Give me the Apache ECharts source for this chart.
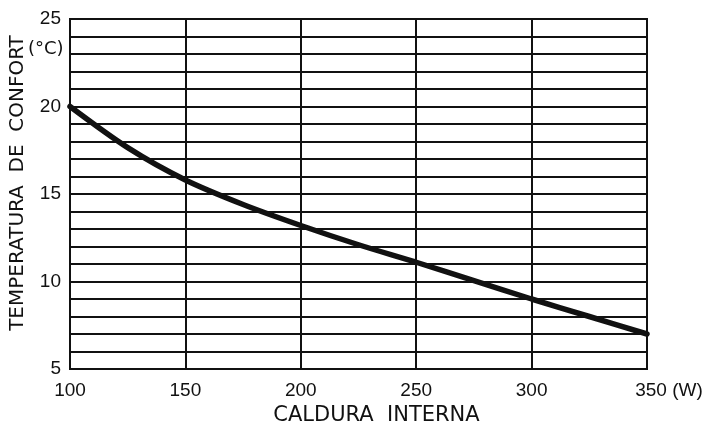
<!DOCTYPE html>
<html>
<head>
<meta charset="utf-8">
<script src="https://cdn.jsdelivr.net/npm/echarts@6/dist/echarts.min.js"></script>
<style>
  html, body { margin: 0; padding: 0; background: #fff; }
  #chart { width: 711px; height: 423px; }
</style>
</head>
<body>
<div id="chart"></div>
<script>
// Internal heat (W) against the comfort temperature (°C)
const caldura = [100, 125, 150, 175, 200, 225, 250, 275, 300, 325, 350];
const temperatura = [20.0, 17.65, 15.8, 14.4, 13.2, 12.1, 11.1, 10.05, 9.0, 8.0, 7.0];
const xTicks = [100, 150, 200, 250, 300, 350];
const yTicks = [5, 10, 15, 20, 25];

const ink = '#111';
const labelFont = 'Liberation Sans';
const titleFont = 'DejaVu Sans';

const chart = echarts.init(document.getElementById('chart'), null, { renderer: 'canvas' });

chart.setOption({
  backgroundColor: '#fff',
  animation: false,
  grid: { left: 70, right: 64, top: 19, bottom: 54, show: false, containLabel: false, outerBoundsMode: 'none' },
  xAxis: {
    type: 'value',
    min: xTicks[0],
    max: xTicks[xTicks.length - 1],
    interval: 50,
    name: 'CALDURA  INTERNA',
    nameLocation: 'middle',
    nameGap: 26,
    nameTextStyle: { color: ink, fontFamily: titleFont, fontSize: 21, padding: [0, 0, 0, 36] },
    axisLine: { show: true, lineStyle: { color: ink, width: 2 } },
    axisTick: { show: false },
    splitLine: { show: true, lineStyle: { color: ink, width: 2 } },
    axisLabel: {
      color: ink,
      fontFamily: labelFont,
      fontSize: 19,
      margin: 12,
      formatter: function (v) {
        if (v === xTicks[xTicks.length - 1]) return '{pad|}' + v + ' (W)';
        return String(v);
      },
      rich: {
        pad: { width: 44 }
      }
    }
  },
  yAxis: {
    type: 'value',
    min: yTicks[0],
    max: yTicks[yTicks.length - 1],
    interval: 1,
    name: 'TEMPERATURA  DE  CONFORT',
    nameLocation: 'middle',
    nameGap: 42,
    nameTextStyle: { color: ink, fontFamily: titleFont, fontSize: 20, padding: [0, 0, 0, 22] },
    axisLine: { show: true, lineStyle: { color: ink, width: 2 } },
    axisTick: { show: false },
    splitLine: { show: true, lineStyle: { color: ink, width: 2 } },
    axisLabel: {
      color: ink,
      fontFamily: labelFont,
      fontSize: 19,
      margin: 9,
      formatter: function (v) {
        return yTicks.indexOf(v) >= 0 ? String(v) : '';
      }
    }
  },
  graphic: [
    {
      type: 'rect',
      shape: { x: 70, y: 19, width: 577, height: 350 },
      style: { fill: 'none', stroke: ink, lineWidth: 2 },
      z: 10
    },
    {
      type: 'text',
      left: 28,
      top: 40,
      style: { text: '(°C)', fill: ink, font: '18px "DejaVu Sans"' }
    }
  ],
  series: [{
    type: 'line',
    data: caldura.map((x, i) => [x, temperatura[i]]),
    smooth: 0.3,
    showSymbol: false,
    lineStyle: { color: ink, width: 5.5, cap: 'round' },
    z: 20
  }]
});
</script>
</body>
</html>
